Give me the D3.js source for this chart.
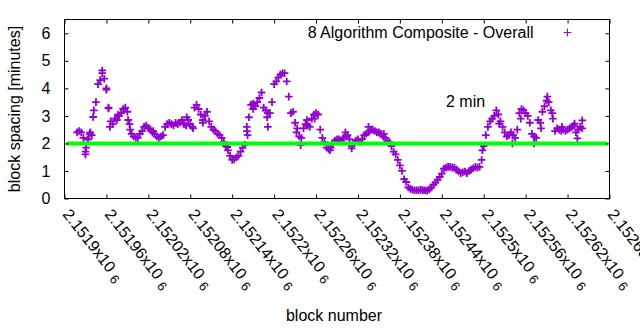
<!DOCTYPE html>
<html>
<head>
<meta charset="utf-8">
<script src="https://cdn.jsdelivr.net/npm/d3@7"></script>
<style>
  body { margin: 0; background: #fff; }
  text { font-family: "Liberation Sans", Arial, sans-serif; fill: #000; }
</style>
</head>
<body>
<div id="chart"></div>
<script>
// block spacing (minutes), one reading every 3 blocks starting at blockStart
var blockStart = 2151918,
    blockStep = 3;
var spacing = [
  2.4,2.45,2.4,2.2,1.7,2.15,2.35,2.3,3.2,3.5,
  4.15,4.3,4.55,4.35,4.0,3.3,2.8,2.7,2.9,2.85,
  3.0,3.1,3.25,3.3,3.15,2.7,2.35,2.25,2.2,2.2,
  2.35,2.45,2.6,2.65,2.55,2.5,2.4,2.35,2.25,2.2,
  2.25,2.3,2.6,2.7,2.75,2.7,2.65,2.75,2.7,2.75,
  2.85,2.7,2.65,2.85,2.7,2.6,3.3,3.4,3.25,3.05,
  2.85,3.0,3.15,2.8,2.6,2.5,2.45,2.35,2.3,2.2,
  2.05,1.9,1.75,1.55,1.4,1.42,1.5,1.55,1.7,1.85,
  1.95,2.45,2.95,3.4,3.45,3.35,3.5,3.65,3.85,3.3,
  3.2,3.1,3.1,3.5,4.15,4.25,4.4,4.5,4.55,4.55,
  4.25,3.7,3.1,3.15,2.75,2.55,2.25,2.2,2.55,2.7,
  2.65,2.6,2.9,3.05,3.1,3.05,2.5,2.2,2.05,1.85,
  1.8,1.85,2.0,2.1,2.15,2.15,2.1,2.2,2.25,2.3,
  2.15,1.9,2.0,2.1,2.15,2.05,2.15,2.3,2.35,2.4,
  2.5,2.5,2.45,2.4,2.4,2.35,2.25,2.2,2.1,2.05,
  1.9,1.7,1.6,1.4,1.2,1.0,0.7,0.6,0.4,0.35,
  0.32,0.3,0.3,0.3,0.32,0.3,0.3,0.28,0.33,0.4,
  0.5,0.58,0.68,0.78,0.9,1.08,1.12,1.15,1.15,1.12,
  1.12,1.05,0.98,0.92,0.95,0.98,0.92,1.0,1.05,1.1,
  1.15,1.12,1.15,1.4,1.9,2.3,2.6,2.8,2.9,3.0,
  3.2,3.05,2.8,2.6,2.4,2.25,2.3,2.4,2.3,2.2,
  2.5,3.1,3.25,3.2,3.1,3.0,2.75,2.35,2.25,2.2,
  2.85,2.75,3.15,3.35,3.55,3.5,3.2,2.9,2.45,2.55,
  2.5,2.45,2.5,2.45,2.5,2.55,2.6,2.65,2.4,2.5,
  2.6,2.55
];

// scattered readings away from the main band
var extraBlocks = [2151930,2151931,2151934,2151937,2151941,2151954,2151960,2151963,2151965,2151977,
  2151991,2151994,2152027,2152075,2152084,2152098,2152133,2152161,2152162,2152170,
  2152190,2152191,2152232,2152238,2152247,2152258,2152280,2152302,2152311,2152335,
  2152357,2152498,2152522,2152541,2152553,2152572,2152582,2152591,2152598,2152612,
  2152630,2152634,2152641];
var extraSpacing = [1.6,1.85,2.15,2.4,2.96,4.65,3.95,3.27,2.6,3.05,
  2.85,2.5,2.45,2.95,2.55,2.75,1.87,2.6,2.3,3.25,
  2.95,2.6,2.4,1.94,2.85,2.9,1.75,2.4,1.82,2.6,
  2.35,1.75,2.72,2.0,2.9,2.0,2.55,3.7,3.1,2.6,
  2.72,2.18,2.84];

var xTickValues = [2151900,2151960,2152020,2152080,2152140,2152200,2152260,
  2152320,2152380,2152440,2152500,2152560,2152620,2152680];
var xTickLabels = ["2.1519","2.15196","2.15202","2.15208","2.15214","2.1522","2.15226",
  "2.15232","2.15238","2.15244","2.1525","2.15256","2.15262","2.15268"];
var yTickValues = [0,1,2,3,4,5,6];
var targetMinutes = 2;
var seriesName = "8 Algorithm Composite - Overall";
var targetLabel = "2 min";

// dimensions
var margin = {top: 19.5, right: 30.5, bottom: 131.5, left: 64.5},
    width = 640 - margin.left - margin.right,
    height = 330 - margin.top - margin.bottom;

var svg = d3.select("#chart")
  .append("svg")
    .attr("width", 640)
    .attr("height", 330)
  .append("g")
    .attr("transform", "translate(" + margin.left + "," + margin.top + ")");

var x = d3.scaleLinear()
  .domain([xTickValues[0], xTickValues[xTickValues.length - 1]])
  .range([0, width]);

var y = d3.scaleLinear()
  .domain([0, 6.5])
  .range([height, 0]);

var points = spacing.map(function(v, i) { return {b: blockStart + i * blockStep, v: v}; })
  .concat(extraBlocks.map(function(b, i) { return {b: b, v: extraSpacing[i]}; }));

var purple = "#9400d3";
var cross = "M-3.8,0H3.8M0,-3.8V3.8";

// points
svg.append("g")
  .selectAll("path")
  .data(points)
  .enter()
  .append("path")
    .attr("d", cross)
    .attr("transform", function(d) { return "translate(" + x(d.b) + "," + y(d.v) + ")"; })
    .attr("stroke", purple)
    .attr("stroke-width", 1.8)
    .attr("fill", "none");

// 2 minute target line
svg.append("line")
  .attr("x1", x(xTickValues[0]) + 2)
  .attr("x2", x(xTickValues[xTickValues.length - 1]) - 2)
  .attr("y1", y(targetMinutes))
  .attr("y2", y(targetMinutes))
  .attr("stroke", "#00ff00")
  .attr("stroke-width", 4);

// axes, ticks pointing inwards
var gx = svg.append("g")
  .attr("transform", "translate(0," + height + ")")
  .call(d3.axisBottom(x).tickValues(xTickValues).tickSize(-4).tickFormat(""));
svg.append("g")
  .call(d3.axisTop(x).tickValues(xTickValues).tickSize(-4).tickFormat(""));
svg.append("g")
  .call(d3.axisLeft(y).tickValues(yTickValues).tickSize(-4).tickPadding(14).tickFormat(d3.format("d")))
  .selectAll("text").style("font-size", "16px").attr("font-family", null);
svg.append("g")
  .attr("transform", "translate(" + width + ",0)")
  .call(d3.axisRight(y).tickValues(yTickValues).tickSize(-4).tickFormat(""));
svg.selectAll(".domain").remove();
svg.selectAll(".tick line").attr("stroke", "#000");

// rotated x labels like 2.1519x10^6
gx.selectAll(".tick").each(function(d, i) {
  var t = d3.select(this).append("text")
    .attr("transform", "translate(-3,16) rotate(52)")
    .attr("text-anchor", "start")
    .style("font-size", "16px");
  t.append("tspan").text(xTickLabels[i] + "x10");
  t.append("tspan").attr("dx", 5).attr("dy", 3).style("font-size", "13px").text("6");
});

// frame
svg.append("rect")
  .attr("width", width)
  .attr("height", height)
  .attr("fill", "none")
  .attr("stroke", "#000");

// axis titles
svg.append("text")
  .attr("x", width / 2 - 3)
  .attr("y", height + 122)
  .style("text-anchor", "middle")
  .style("font-size", "16px")
  .text("block number");

svg.append("text")
  .attr("transform", "translate(" + (20 - margin.left) + "," + (height / 2) + ") rotate(-90)")
  .style("text-anchor", "middle")
  .style("font-size", "16px")
  .text("block spacing [minutes]");

// label for target line
svg.append("text")
  .attr("x", x(2152446))
  .attr("y", y(3.32))
  .style("font-size", "16px")
  .text(targetLabel);

// legend
svg.append("text")
  .attr("x", width - 76)
  .attr("y", 13)
  .attr("dy", "0.35em")
  .style("text-anchor", "end")
  .style("font-size", "16px")
  .text(seriesName);
svg.append("path")
  .attr("d", cross)
  .attr("transform", "translate(" + (width - 42) + ",13)")
  .attr("stroke", purple)
  .attr("stroke-width", 1)
  .attr("fill", "none");
</script>
</body>
</html>
